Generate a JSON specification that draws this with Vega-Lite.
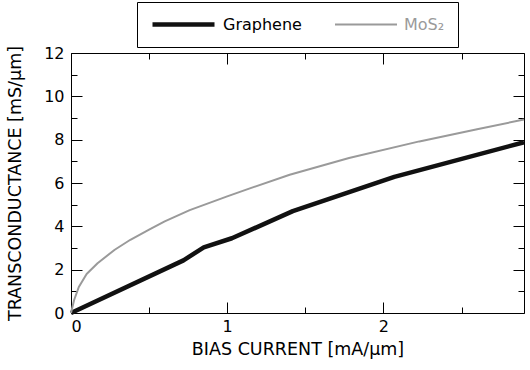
{
  "$schema": "https://vega.github.io/schema/vega-lite/v6.json",
  "width": 453,
  "height": 260,
  "autosize": {"type": "none"},
  "padding": {"left": 71, "top": 53, "right": 6, "bottom": 57},
  "config": {
    "font": "DejaVu Sans",
    "view": {"stroke": "#000", "strokeWidth": 1},
    "axis": {
      "domain": false,
      "grid": false,
      "tickColor": "#000",
      "tickWidth": 1,
      "labelColor": "#000",
      "labelFontSize": 16,
      "titleColor": "#000",
      "titleFontSize": 17.5,
      "titleFontWeight": "normal"
    }
  },
  "data": {
    "values": [
      {"series": "Graphene", "x": 0, "y": 0},
      {"series": "Graphene", "x": 0.72, "y": 2.43},
      {"series": "Graphene", "x": 0.85, "y": 3.03},
      {"series": "Graphene", "x": 1.03, "y": 3.45},
      {"series": "Graphene", "x": 1.42, "y": 4.7},
      {"series": "Graphene", "x": 2.07, "y": 6.28},
      {"series": "Graphene", "x": 2.9, "y": 7.88},
      {"series": "MoS₂", "x": 0, "y": 0},
      {"series": "MoS₂", "x": 0.02, "y": 0.6},
      {"series": "MoS₂", "x": 0.05, "y": 1.2},
      {"series": "MoS₂", "x": 0.1, "y": 1.8},
      {"series": "MoS₂", "x": 0.17, "y": 2.3},
      {"series": "MoS₂", "x": 0.28, "y": 2.92},
      {"series": "MoS₂", "x": 0.38, "y": 3.38},
      {"series": "MoS₂", "x": 0.5, "y": 3.85},
      {"series": "MoS₂", "x": 0.6, "y": 4.23},
      {"series": "MoS₂", "x": 0.76, "y": 4.75},
      {"series": "MoS₂", "x": 1.0, "y": 5.38},
      {"series": "MoS₂", "x": 1.145, "y": 5.75},
      {"series": "MoS₂", "x": 1.4, "y": 6.38},
      {"series": "MoS₂", "x": 1.78, "y": 7.15},
      {"series": "MoS₂", "x": 2.23, "y": 7.92},
      {"series": "MoS₂", "x": 2.6, "y": 8.48},
      {"series": "MoS₂", "x": 2.9, "y": 8.93}
    ]
  },
  "layer": [
    {
      "mark": {"type": "line", "strokeCap": "butt", "strokeJoin": "round"},
      "encoding": {
        "x": {
          "field": "x",
          "type": "quantitative",
          "scale": {"domain": [0, 2.9], "nice": false, "zero": false},
          "axis": {
            "orient": "bottom",
            "title": "BIAS CURRENT [mA/μm]",
            "values": [0, 0.5, 1, 1.5, 2, 2.5],
            "tickSize": {"condition": {"test": "datum.value % 1 !== 0", "value": -6}, "value": -11},
            "labelExpr": "datum.value % 1 === 0 ? format(datum.value, 'd') : ''",
            "labelPadding": 16,
            "titlePadding": 6
          }
        },
        "y": {
          "field": "y",
          "type": "quantitative",
          "scale": {"domain": [0, 12], "nice": false},
          "axis": {
            "orient": "left",
            "title": "TRANSCONDUCTANCE [mS/μm]",
            "values": [0, 1, 2, 3, 4, 5, 6, 7, 8, 9, 10, 11, 12],
            "tickSize": {"condition": {"test": "datum.value % 2 !== 0", "value": -6}, "value": -11},
            "labelExpr": "datum.value % 2 === 0 ? format(datum.value, 'd') : ''",
            "labelPadding": 18,
            "titlePadding": 19
          }
        },
        "color": {
          "field": "series",
          "type": "nominal",
          "scale": {"domain": ["Graphene", "MoS₂"], "range": ["#111111", "#9a9a9a"]},
          "legend": {
            "title": null,
            "orient": "none",
            "legendX": 66,
            "legendY": -51,
            "direction": "horizontal",
            "strokeColor": "#000",
            "padding": 13,
            "clipHeight": 19,
            "symbolType": "stroke",
            "symbolSize": 3844,
            "symbolStrokeWidth": 3,
            "labelFontSize": 16,
            "labelOffset": 6,
            "columnPadding": 32,
            "encode": {
              "symbols": {"update": {"strokeWidth": {"signal": "datum.value === 'Graphene' ? 4.5 : 2"}}},
              "labels": {"update": {"fill": {"signal": "datum.value === 'Graphene' ? '#000' : '#9a9a9a'"}}}
            }
          }
        },
        "strokeWidth": {
          "field": "series",
          "type": "nominal",
          "scale": {"domain": ["Graphene", "MoS₂"], "range": [4.5, 2]},
          "legend": null
        }
      }
    },
    {
      "mark": {"type": "point", "opacity": 0},
      "encoding": {
        "x": {
          "field": "x",
          "type": "quantitative",
          "axis": {
            "orient": "top",
            "title": null,
            "labels": false,
            "values": [0, 0.5, 1, 1.5, 2, 2.5],
            "tickSize": {"condition": {"test": "datum.value % 1 !== 0", "value": -6}, "value": -11}
          }
        },
        "y": {
          "field": "y",
          "type": "quantitative",
          "axis": {
            "orient": "right",
            "title": null,
            "labels": false,
            "values": [0, 1, 2, 3, 4, 5, 6, 7, 8, 9, 10, 11, 12],
            "tickSize": {"condition": {"test": "datum.value % 2 !== 0", "value": -6}, "value": -11}
          }
        }
      }
    }
  ],
  "resolve": {"axis": {"x": "independent", "y": "independent"}}
}
